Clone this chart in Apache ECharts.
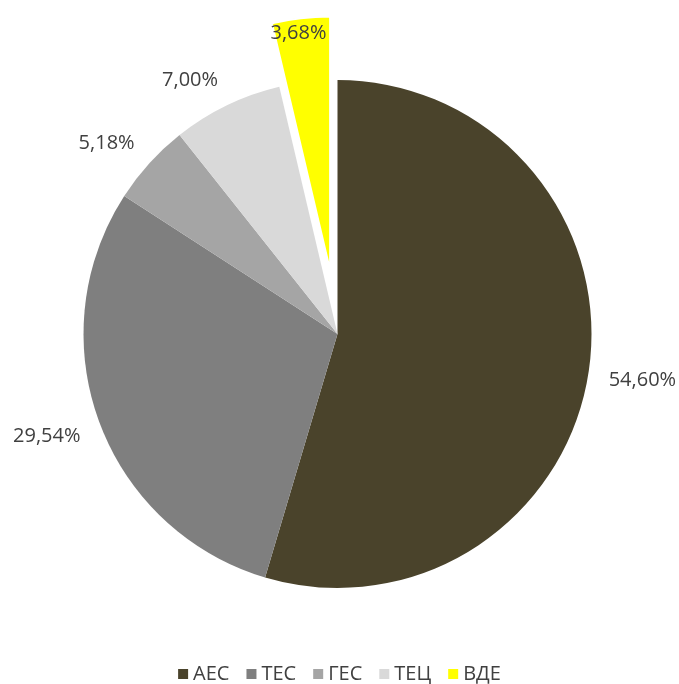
<!DOCTYPE html>
<html>
<head>
<meta charset="utf-8">
<title>Структура виробництва електроенергії</title>
<script src="https://cdn.jsdelivr.net/npm/echarts@6/dist/echarts.min.js"></script>
<style>
  html, body { margin: 0; padding: 0; background: #ffffff; }
  #chart { width: 679px; height: 684px; }
</style>
</head>
<body>
<div id="chart"></div>
<script>
// Generation sources and their shares, %
const categories = ['АЕС', 'ТЕС', 'ГЕС', 'ТЕЦ', 'ВДЕ'];
const shares = [54.60, 29.54, 5.18, 7.00, 3.68];
const colors = ['#4a432b', '#7f7f7f', '#a5a5a5', '#d9d9d9', '#ffff00'];
const explodedName = 'ВДЕ';

// Pie geometry
const CENTER = [337.5, 334];
const RADIUS = 254;
const EXPLODE = 64;
const LABEL_GAP = 20;
const LABEL_TOP_LIMIT = 26;
const FONT = '"Open Sans", "Noto Sans", sans-serif';
const TEXT_COLOR = '#404040';

const total = shares.reduce((a, b) => a + b, 0);
const explodedIndex = categories.indexOf(explodedName);

function fmt(v) {
  return v.toFixed(2).replace('.', ',') + '%';
}

// Mid direction of a slice (clockwise from 12 o'clock)
function midDir(i) {
  let before = 0;
  for (let k = 0; k < i; k++) before += shares[k];
  const theta = 2 * Math.PI * (before + shares[i] / 2) / total;
  return [Math.sin(theta), -Math.cos(theta)];
}

// The pulled-out slice is drawn by a second pie whose centre is shifted
// along that slice's mid direction.
const exDir = midDir(explodedIndex);
const EX_CENTER = [CENTER[0] + exDir[0] * EXPLODE, CENTER[1] + exDir[1] * EXPLODE];

// Place each label outside its slice: the label corner facing the pie
// sits a fixed gap beyond the slice's outer edge along its mid direction.
function layoutLabel(params) {
  const i = params.dataIndex;
  const d = midDir(i);
  const extra = i === explodedIndex ? EXPLODE : 0;
  const dist = RADIUS + extra + LABEL_GAP;
  const x = CENTER[0] + d[0] * dist;
  let y = CENTER[1] + d[1] * dist;
  const h = params.labelRect.height;
  const align = Math.abs(d[0]) < 0.2 ? 'center' : (d[0] > 0 ? 'left' : 'right');
  let verticalAlign = d[1] > 0 ? 'top' : 'bottom';
  if (verticalAlign === 'bottom' && y - h < LABEL_TOP_LIMIT) {
    y = LABEL_TOP_LIMIT;
    verticalAlign = 'top';
  }
  return { x: x, y: y, align: align, verticalAlign: verticalAlign };
}

const hidden = { color: 'rgba(0,0,0,0)', borderWidth: 0 };

// Main pie: every slice except the pulled-out one
const mainData = categories.map((name, i) => ({
  name: name,
  value: shares[i],
  itemStyle: i === explodedIndex ? hidden : { color: colors[i] },
  label: { show: i !== explodedIndex }
}));

// Shifted pie: only the pulled-out slice is visible
const explodedData = categories.map((name, i) => ({
  name: name,
  value: shares[i],
  itemStyle: i === explodedIndex
    ? { color: colors[i], borderColor: '#ffffff', borderWidth: 2 }
    : hidden,
  label: { show: i === explodedIndex }
}));

const labelStyle = {
  show: true,
  position: 'outside',
  color: TEXT_COLOR,
  fontSize: 20,
  lineHeight: 14,
  fontFamily: FONT,
  formatter: p => fmt(p.value)
};

const chart = echarts.init(document.getElementById('chart'), null, { renderer: 'canvas' });

chart.setOption({
  animation: false,
  backgroundColor: '#ffffff',
  textStyle: { fontFamily: FONT },
  legend: {
    data: categories.map((name, i) => ({ name: name, itemStyle: { color: colors[i] } })),
    left: 'center',
    top: 659,
    icon: 'rect',
    itemWidth: 10,
    itemHeight: 10,
    itemGap: 17,
    selectedMode: false,
    textStyle: { color: TEXT_COLOR, fontSize: 20, fontFamily: FONT }
  },
  series: [{
    type: 'pie',
    name: 'main',
    center: CENTER,
    radius: RADIUS,
    startAngle: 90,
    clockwise: true,
    avoidLabelOverlap: false,
    emphasis: { disabled: true },
    label: labelStyle,
    labelLine: { show: false },
    labelLayout: layoutLabel,
    data: mainData
  }, {
    type: 'pie',
    name: 'exploded',
    center: EX_CENTER,
    radius: RADIUS,
    startAngle: 90,
    clockwise: true,
    avoidLabelOverlap: false,
    emphasis: { disabled: true },
    label: labelStyle,
    labelLine: { show: false },
    labelLayout: layoutLabel,
    data: explodedData
  }]
});
</script>
</body>
</html>
